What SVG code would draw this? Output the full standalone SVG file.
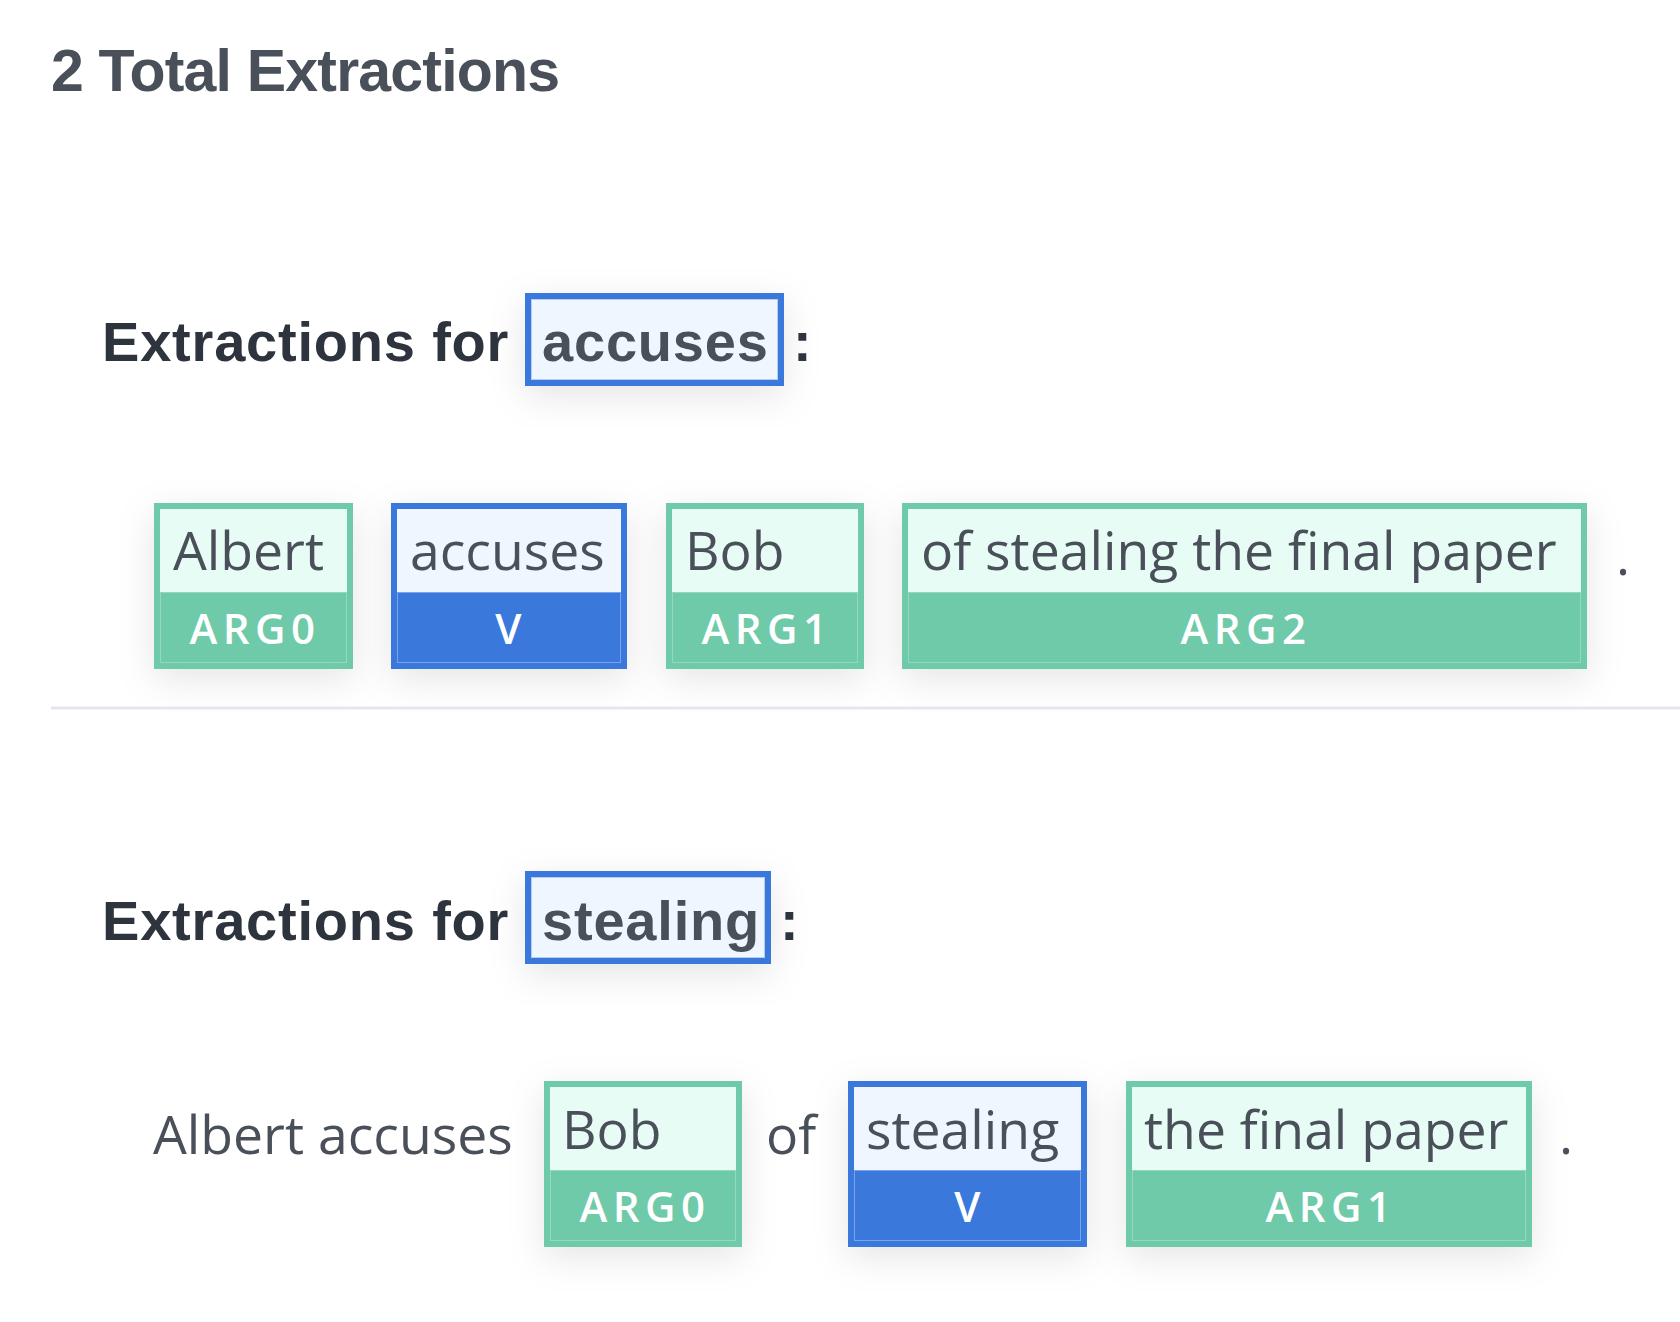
<svg xmlns="http://www.w3.org/2000/svg" width="1680" height="1322" viewBox="0 0 1680 1322">
<defs>
<filter id="sh" x="-30%" y="-40%" width="160%" height="190%">
<feDropShadow dx="0" dy="10" stdDeviation="18" flood-color="#000" flood-opacity="0.10"/>
</filter>
<style>
.h1{font-family:"Liberation Sans",Arial,sans-serif;font-weight:700;font-size:59px;fill:#4a5059;letter-spacing:-0.8px}
.h2{font-family:"Liberation Sans",Arial,sans-serif;font-weight:700;font-size:56px;fill:#2e343e;letter-spacing:0.8px}
.hw{font-family:"Liberation Sans",Arial,sans-serif;font-weight:700;font-size:56px;fill:#4a5059;letter-spacing:0.8px}
.tok{font-family:"Open Sans","Noto Sans",sans-serif;font-size:53.5px;fill:#4a5059}
.lbl{font-family:"Open Sans","Noto Sans",sans-serif;font-weight:600;font-size:42px;fill:#ffffff;letter-spacing:5.5px;text-anchor:middle}
.gO{fill:#6ecaa8}
.gI{fill:#e7fcf4}
.gL{fill:none;stroke:#93d9bf;stroke-width:1}
.bO{fill:#3b78dc}
.bI{fill:#eff6ff}
.bL{fill:none;stroke:#79a3ea;stroke-width:1}
.hb{fill:#eff6ff;stroke:#3b78dc;stroke-width:6}
.hbl{fill:none;stroke:#b5cdf3;stroke-width:1}
</style>
</defs>
<rect width="1680" height="1322" fill="#ffffff"/>

<g id="title"><text class="h1" x="51" y="91">2 Total Extractions</text></g>

<g id="heading-accuses">
<text class="h2" x="102" y="361">Extractions for</text>
<g filter="url(#sh)"><rect class="hb" x="528" y="296" width="253" height="87"/></g>
<rect class="hbl" x="531.5" y="299.5" width="246" height="80"/>
<text class="hw" x="542" y="361">accuses</text>
<text class="h2" x="793" y="361">:</text>
</g>

<g id="row1">
<g id="r1-albert">
<rect class="gO" x="154" y="503" width="199" height="166" filter="url(#sh)"/>
<rect class="gI" x="160" y="509" width="187" height="83"/>
<rect class="gL" x="160.5" y="592.5" width="186" height="70"/>
<text class="tok" x="173" y="570">Albert</text>
<text class="lbl" x="255" y="644">ARG0</text>
</g>
<g id="r1-accuses">
<rect class="bO" x="391" y="503" width="236" height="166" filter="url(#sh)"/>
<rect class="bI" x="397" y="509" width="224" height="83"/>
<rect class="bL" x="397.5" y="592.5" width="223" height="70"/>
<text class="tok" x="410" y="570">accuses</text>
<text class="lbl" x="511" y="644">V</text>
</g>
<g id="r1-bob">
<rect class="gO" x="666" y="503" width="198" height="166" filter="url(#sh)"/>
<rect class="gI" x="672" y="509" width="186" height="83"/>
<rect class="gL" x="672.5" y="592.5" width="185" height="70"/>
<text class="tok" x="685" y="570">Bob</text>
<text class="lbl" x="767" y="644">ARG1</text>
</g>
<g id="r1-arg2">
<rect class="gO" x="902" y="503" width="685" height="166" filter="url(#sh)"/>
<rect class="gI" x="908" y="509" width="673" height="83"/>
<rect class="gL" x="908.5" y="592.5" width="672" height="70"/>
<text class="tok" x="921" y="570">of stealing the final paper</text>
<text class="lbl" x="1246" y="644">ARG2</text>
</g>
<text class="tok" x="1616" y="575">.</text>
</g>

<g id="divider"><line x1="51" y1="708" x2="1680" y2="708" stroke="#e4e7ed" stroke-width="3"/></g>

<g id="heading-stealing">
<text class="h2" x="102" y="940">Extractions for</text>
<g filter="url(#sh)"><rect class="hb" x="528" y="874" width="240" height="87"/></g>
<rect class="hbl" x="531.5" y="877.5" width="233" height="80"/>
<text class="hw" x="542" y="940">stealing</text>
<text class="h2" x="780" y="940">:</text>
</g>

<g id="row2">
<text class="tok" x="153" y="1154">Albert accuses</text>
<g id="r2-bob">
<rect class="gO" x="544" y="1081" width="198" height="166" filter="url(#sh)"/>
<rect class="gI" x="550" y="1087" width="186" height="83"/>
<rect class="gL" x="550.5" y="1170.5" width="185" height="70"/>
<text class="tok" x="562" y="1149">Bob</text>
<text class="lbl" x="645" y="1222">ARG0</text>
</g>
<text class="tok" x="766" y="1154">of</text>
<g id="r2-stealing">
<rect class="bO" x="848" y="1081" width="239" height="166" filter="url(#sh)"/>
<rect class="bI" x="854" y="1087" width="227" height="83"/>
<rect class="bL" x="854.5" y="1170.5" width="226" height="70"/>
<text class="tok" x="866" y="1149">stealing</text>
<text class="lbl" x="970" y="1222">V</text>
</g>
<g id="r2-paper">
<rect class="gO" x="1126" y="1081" width="406" height="166" filter="url(#sh)"/>
<rect class="gI" x="1132" y="1087" width="394" height="83"/>
<rect class="gL" x="1132.5" y="1170.5" width="393" height="70"/>
<text class="tok" x="1144" y="1149">the final paper</text>
<text class="lbl" x="1331" y="1222">ARG1</text>
</g>
<text class="tok" x="1559" y="1154">.</text>
</g>
</svg>
